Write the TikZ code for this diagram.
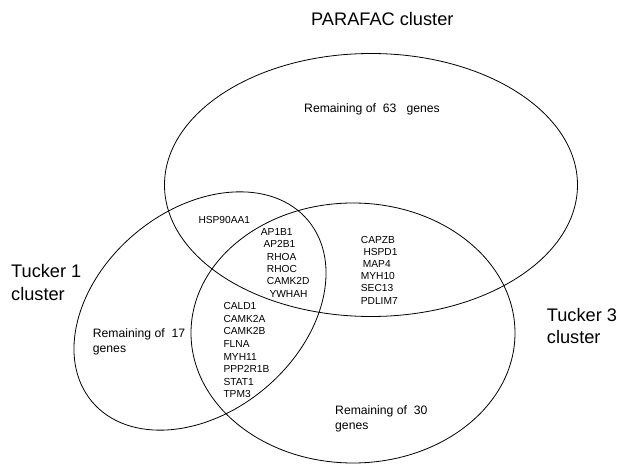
\documentclass[tikz,border=0pt]{standalone}
\usepackage{fontspec}
\setmainfont{Liberation Sans}
\usetikzlibrary{shapes.geometric}
\begin{document}
\begin{tikzpicture}[x=1pt,y=-1pt,
  set/.style={draw,ellipse,line width=0.8pt,inner sep=0pt},
  gene/.style={anchor=base west,inner sep=0pt,font=\fontsize{10.2}{12}\selectfont},
  rem/.style={anchor=base west,inner sep=0pt,font=\fontsize{12.2}{14}\selectfont},
  title/.style={anchor=base west,inner sep=0pt,font=\fontsize{18.2}{22}\selectfont}]
\useasboundingbox (0,0) rectangle (622,465);
% sets
\node[set,minimum width=413pt,minimum height=263pt] (parafac) at (371,185) {};
\node[set,minimum width=324pt,minimum height=260pt] (tucker3) at (353,333) {};
\node[set,minimum width=282pt,minimum height=202pt,rotate=40] (tucker1) at (200,311) {};
% titles
\node[title] (tParafac) at (311,26) {PARAFAC cluster};
\node[title] (tT1a) at (11,277.3) {Tucker 1};
\node[title] (tT1b) at (11,301) {cluster};
\node[title] (tT3a) at (546.7,321.7) {Tucker 3};
\node[title] (tT3b) at (546.7,343.3) {cluster};
% remaining
\node[rem] (r63) at (304,112.7) {Remaining of\ \ 63\ \ \ genes};
\node[rem] (r17a) at (92.7,337.3) {Remaining of\ \ 17};
\node[rem] (r17b) at (92.7,352.3) {genes};
\node[rem] (r30a) at (335,415) {Remaining of\ \ 30};
\node[rem] (r30b) at (335,429.5) {genes};
% genes
\node[gene] (hsp) at (198.3,224) {HSP90AA1};
\foreach \n/\x/\y in {AP1B1/260.7/235.7, AP2B1/263.3/247.6, RHOA/266.7/260.2, RHOC/266.7/272.6, CAMK2D/266.7/285, YWHAH/269.3/297.3}
  \node[gene] (g\n) at (\x,\y) {\n};
\foreach \n/\y in {CALD1/310, CAMK2A/322.5, CAMK2B/335, FLNA/347.4, MYH11/360.2, PPP2R1B/372.8, STAT1/385, TPM3/397.3}
  \node[gene] (g\n) at (223.3,\y) {\n};
\foreach \n/\x/\y in {CAPZB/360.7/243.3, HSPD1/363.3/256, MAP4/362.7/267.9, MYH10/360.7/280, SEC13/360.7/292, PDLIM7/360.7/304.3}
  \node[gene] (g\n) at (\x,\y) {\n};
\end{tikzpicture}
\end{document}
